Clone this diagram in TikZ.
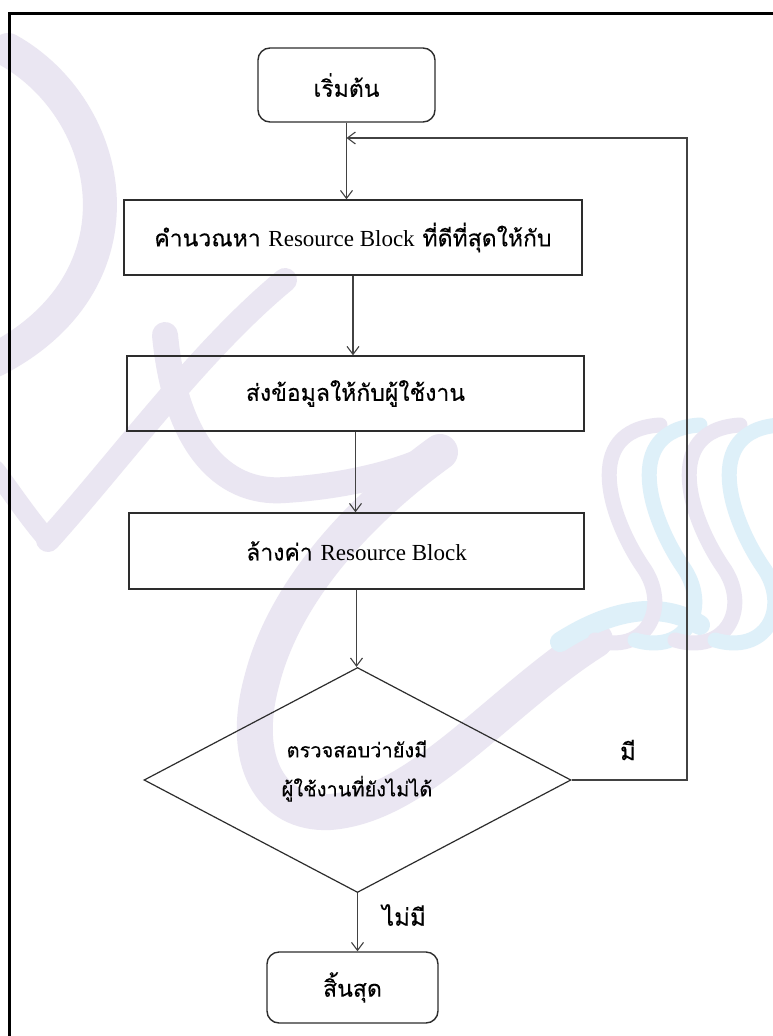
\documentclass[tikz,border=0pt]{standalone}
\usepackage{fontspec}
\usetikzlibrary{arrows.meta,shapes.geometric,calc}
\newfontfamily\thai[Script=Thai,FakeBold=0.25]{Loma}
\newfontfamily\lat{Liberation Serif}
\definecolor{wmlav}{RGB}{234,230,242}
\definecolor{wmcyan}{RGB}{222,240,249}
\definecolor{ink}{RGB}{45,45,45}
\begin{document}
\begin{tikzpicture}[x=1pt,y=-1pt,
  wm/.style={draw=wmlav,line cap=round},
  wmc/.style={draw=wmcyan,line cap=round},
  term/.style={draw=ink,line width=1.4pt,rounded corners=12pt,inner sep=0pt,
    font=\thai\fontsize{23}{26}\selectfont},
  proc/.style={draw=ink,line width=1.4pt,inner sep=0pt,
    font=\thai\fontsize{23}{26}\selectfont},
  dec/.style={draw=ink,line width=1.2pt,diamond,aspect=1.9,inner sep=0pt},
  flow/.style={draw=ink!90,line width=1.1pt,-{Straight Barb[length=8pt,width=12pt]}},
  tag/.style={font=\thai\fontsize{24}{26}\selectfont,inner sep=0pt}]
\useasboundingbox (0,0) rectangle (773,1036);
\fill[white] (0,0) rectangle (773,1036);

% background watermark
\begin{scope}
\draw[wm,line width=34pt] (8,50) .. controls (115,110) and (150,280) .. (-5,360);
\draw[wm,line width=24pt] (48,540) .. controls (120,460) and (200,350) .. (285,280);
\draw[wm,line width=20pt] (48,540) .. controls (30,520) and (10,490) .. (-5,470);
\draw[wm,line width=26pt] (165,335) .. controls (175,440) and (220,495) .. (285,490)
  .. controls (350,486) and (410,470) .. (440,452);
\draw[wm,line width=36pt] (440,452) .. controls (360,510) and (285,590) .. (262,680)
  .. controls (240,760) and (270,815) .. (330,812)
  .. controls (420,805) and (500,700) .. (595,640);
\draw[wmc,line width=20pt] (560,642) .. controls (610,610) and (660,600) .. (700,625);
\foreach \x/\c in {600/wmlav,640/wmcyan,680/wmlav,720/wmcyan}{
  \draw[draw=\c,line width=15pt,line cap=round]
    (\x+60,425) .. controls (\x-20,430) and (\x+10,520) .. (\x+45,570)
    .. controls (\x+70,610) and (\x+45,655) .. (\x-5,640);
}
\end{scope}

% page frame
\draw[line width=3pt] (9,1036) -- (9,13) -- (773,13);

% flowchart nodes
\node[term,minimum width=177pt,minimum height=74pt] (start) at (346.5,85) {เริ่มต้น};
\node[proc,minimum width=458pt,minimum height=75pt] (calc) at (353,237.5)
  {คำนวณหา {\lat Resource Block} ที่ดีที่สุดให้กับ};
\node[proc,minimum width=457pt,minimum height=75pt] (send) at (355.5,393.5)
  {ส่งข้อมูลให้กับผู้ใช้งาน};
\node[proc,minimum width=455pt,minimum height=76pt] (clear) at (356.5,551)
  {ล้างค่า {\lat Resource Block}};
\node[dec,minimum width=427pt,minimum height=225pt] (check) at (357.5,780) {};
\node[tag,align=center,font=\thai\fontsize{20}{39}\selectfont] (checktxt) at (357,771)
  {ตรวจสอบว่ายังมี\\ผู้ใช้งานที่ยังไม่ได้};
\node[term,minimum width=171pt,minimum height=71pt] (stop) at (352.5,987.5) {สิ้นสุด};

\node[tag] (yes) at (628,750) {มี};
\node[tag] (no) at (404,915) {ไม่มี};

\coordinate (corner) at (687,138);

% connectors
\draw[flow] (start.south) -- (start.south |- calc.north);
\draw[flow] (calc.south) -- (calc.south |- send.north);
\draw[flow] (send.south) -- (send.south |- clear.north);
\draw[flow] (clear.south) -- (clear.south |- check.north);
\draw[flow] (check.south) -- (check.south |- stop.north);
\draw[flow] (check.east) -| (corner) -- (start.south |- corner);
\end{tikzpicture}
\end{document}
